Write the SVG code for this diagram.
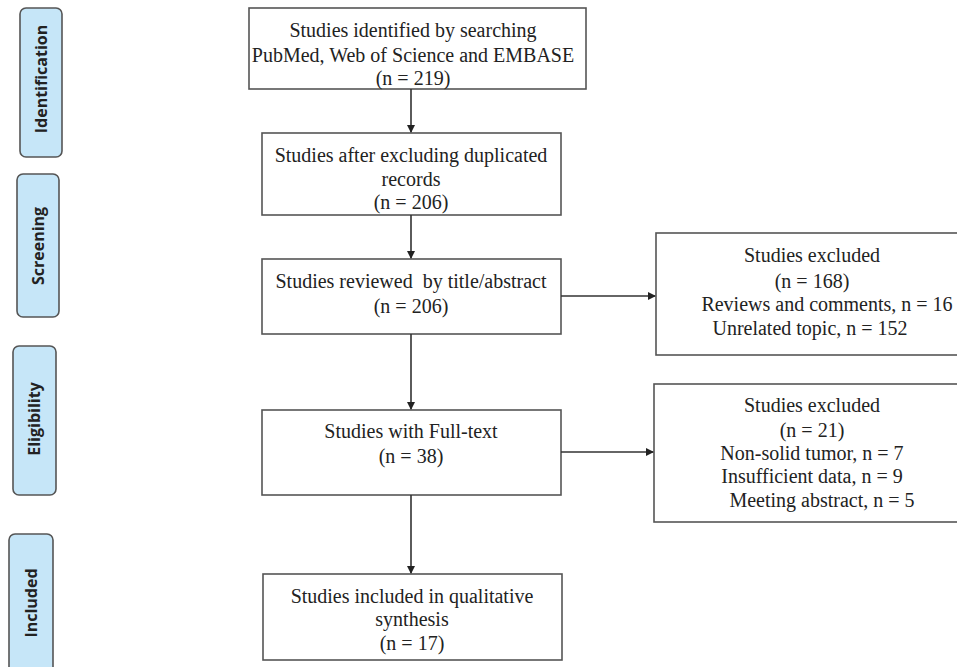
<svg xmlns="http://www.w3.org/2000/svg" width="957" height="667" viewBox="0 0 957 667">
<style>
.box{fill:#fff;stroke:#555;stroke-width:1.6}
.stage{fill:#c6e6f8;stroke:#555;stroke-width:1.6}
.t{font-family:"Liberation Serif","Times New Roman",serif;font-size:20px;fill:#222;text-anchor:middle;white-space:pre}
.s{font-family:"Open Sans","Liberation Sans",sans-serif;font-weight:bold;font-size:16px;fill:#222;text-anchor:middle}
.c{stroke:#333;stroke-width:1.6;fill:none}
</style>
<defs>
<marker id="ah" markerWidth="8" markerHeight="8" refX="7" refY="4" orient="auto" markerUnits="userSpaceOnUse">
<path d="M0,0 L8,4 L0,8 Z" fill="#222"/>
</marker>
</defs>
<g id="stage-identification">
<rect class="stage" x="20" y="8" width="42" height="149" rx="6"/>
<text class="s" transform="translate(47,79) rotate(-90)">Identification</text>
</g>
<g id="stage-screening">
<rect class="stage" x="17" y="174" width="42" height="143" rx="6"/>
<text class="s" transform="translate(44,246) rotate(-90)">Screening</text>
</g>
<g id="stage-eligibility">
<rect class="stage" x="13" y="346" width="43" height="149" rx="6"/>
<text class="s" transform="translate(40,419) rotate(-90)">Eligibility</text>
</g>
<g id="stage-included">
<rect class="stage" x="9" y="534" width="44" height="145" rx="6"/>
<text class="s" transform="translate(37,603) rotate(-90)">Included</text>
</g>
<g id="n1">
<rect class="box" x="249" y="8" width="337" height="81"/>
<text class="t" x="413" y="37">Studies identified by searching</text>
<text class="t" x="413" y="62">PubMed, Web of Science and EMBASE</text>
<text class="t" x="413" y="85">(n = 219)</text>
</g>
<g id="n2">
<rect class="box" x="262" y="133" width="299" height="82"/>
<text class="t" x="411" y="162">Studies after excluding duplicated</text>
<text class="t" x="411" y="186">records</text>
<text class="t" x="411" y="209">(n = 206)</text>
</g>
<g id="n3">
<rect class="box" x="262" y="259" width="299" height="75"/>
<text class="t" x="411" y="288">Studies reviewed  by title/abstract</text>
<text class="t" x="411" y="313">(n = 206)</text>
</g>
<g id="x1">
<rect class="box" x="656" y="233" width="310" height="122"/>
<text class="t" x="812" y="262">Studies excluded</text>
<text class="t" x="812" y="288">(n = 168)</text>
<text class="t" x="827" y="311">Reviews and comments, n = 16</text>
<text class="t" x="810" y="335">Unrelated topic, n = 152</text>
</g>
<g id="n4">
<rect class="box" x="262" y="410" width="299" height="85"/>
<text class="t" x="411" y="438">Studies with Full-text</text>
<text class="t" x="411" y="463">(n = 38)</text>
</g>
<g id="x2">
<rect class="box" x="654" y="384" width="312" height="138"/>
<text class="t" x="812" y="412">Studies excluded</text>
<text class="t" x="812" y="437">(n = 21)</text>
<text class="t" x="812" y="460">Non-solid tumor, n = 7</text>
<text class="t" x="812" y="483">Insufficient data, n = 9</text>
<text class="t" x="822" y="507">Meeting abstract, n = 5</text>
</g>
<g id="n5">
<rect class="box" x="263" y="574" width="299" height="86"/>
<text class="t" x="412" y="603">Studies included in qualitative</text>
<text class="t" x="412" y="626">synthesis</text>
<text class="t" x="412" y="650">(n = 17)</text>
</g>
<g id="connectors">
<line class="c" x1="411" y1="89" x2="411" y2="132" marker-end="url(#ah)"/>
<line class="c" x1="411" y1="215" x2="411" y2="258" marker-end="url(#ah)"/>
<line class="c" x1="561" y1="296" x2="655" y2="296" marker-end="url(#ah)"/>
<line class="c" x1="411" y1="334" x2="411" y2="409" marker-end="url(#ah)"/>
<line class="c" x1="561" y1="452" x2="653" y2="452" marker-end="url(#ah)"/>
<line class="c" x1="411" y1="495" x2="411" y2="573" marker-end="url(#ah)"/>
</g>
</svg>
